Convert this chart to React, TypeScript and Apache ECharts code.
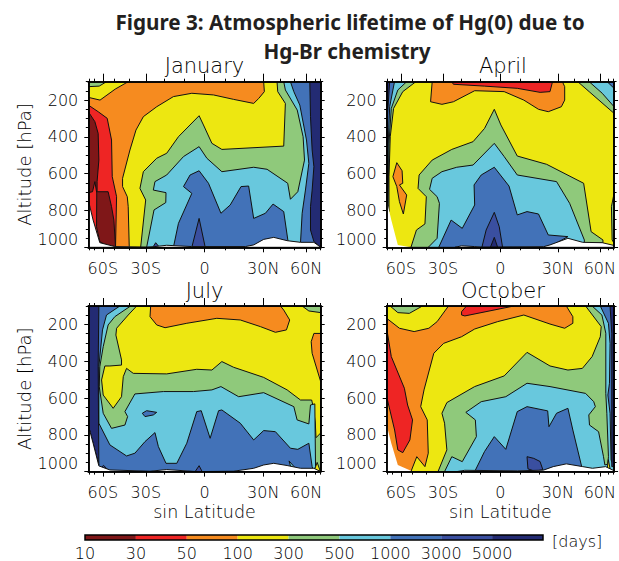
import React, { useEffect, useRef } from "react";
import * as echarts from "echarts";

// lifetime classes, darkest red (shortest) to navy (longest); last two are "below ground"
const levelColors = ["#7F1718", "#EE2524", "#F68B1F", "#EDE711", "#8FC97B", "#68C8DD", "#4272B8", "#3A4FA0", "#232B73", "#FFFFFF", "#FFFFFF"];
const colorbarLabels = ["10", "30", "50", "100", "300", "500", "1000", "3000", "5000"];
const pressureMajor = [200, 400, 600, 800, 1000];
const pressureMinor = [100, 150, 250, 300, 350, 450, 500, 550, 650, 700, 750, 850, 900, 950];
const latitudeMajor = [-60, -30, 0, 30, 60];
const latitudeLabels = ["60S", "30S", "0", "30N", "60N"];
const latitudeMinor = [-80, -70, -50, -40, -20, -10, 10, 20, 40, 50, 70, 80];
const S = 0.99;

const januaryLevels = [2, 3, 4, 1, 0, 3, 4, 5, 6, 7, 7, 8, 9];
const januaryContours = [
  [[-S, 100], [S, 100], [S, 1000], [-S, 1000]],
  [[-S, 100], [-0.65, 100], [-0.76, 140], [-0.89, 200], [-S, 185]],
  [[-S, 100], [-0.835, 100], [-0.897, 124], [-S, 127]],
  [[-S, 227], [-0.906, 263], [-0.829, 299], [-0.792, 417], [-0.786, 616], [-0.749, 725], [-0.758, 1000], [-S, 1000]],
  [[-S, 263], [-0.934, 317], [-0.906, 381], [-0.9, 526], [-0.915, 643], [-0.915, 698], [-0.821, 698], [-0.792, 779], [-0.772, 852], [-0.758, 996], [-0.835, 991], [-0.892, 969], [-0.92, 888], [-0.918, 705], [-0.934, 643], [-0.954, 698], [-S, 703]],
  [[-0.641, 1000], [-0.65, 779], [-0.658, 725], [-0.698, 670], [-0.698, 625], [-0.635, 471], [-0.584, 363], [-0.521, 290], [-0.407, 236], [-0.265, 181], [-0.108, 163], [0.077, 172], [0.248, 196], [0.419, 218], [0.462, 191], [0.51, 154], [0.504, 100], [S, 100], [S, 1000]],
  [[-0.544, 1000], [-0.501, 743], [-0.55, 680], [-0.521, 589], [-0.407, 516], [-0.322, 489], [-0.222, 399], [-0.046, 285], [-0.009, 335], [0.063, 435], [0.148, 468], [0.675, 450], [0.689, 218], [0.624, 154], [0.618, 100], [S, 100], [S, 1000]],
  [[-0.493, 1000], [-0.43, 797], [-0.33, 757], [-0.328, 703], [-0.436, 689], [-0.422, 643], [-0.322, 607], [-0.179, 507], [-0.046, 453], [0.02, 516], [0.148, 589], [0.419, 565], [0.533, 576], [0.709, 652], [0.732, 739], [0.795, 698], [0.852, 526], [0.84, 399], [0.79, 254], [0.689, 145], [0.675, 100], [S, 100], [S, 1000]],
  [[-0.265, 1000], [-0.222, 870], [-0.108, 707], [-0.179, 670], [-0.123, 607], [-0.046, 584], [0.034, 652], [0.14, 815], [0.219, 770], [0.311, 670], [0.376, 667], [0.419, 843], [0.519, 815], [0.584, 765], [0.675, 806], [0.712, 969], [0.818, 975], [0.832, 815], [0.86, 689], [0.889, 544], [0.869, 417], [0.812, 227], [0.761, 154], [0.732, 100], [S, 100], [S, 1000]],
  [[-0.108, 1000], [-0.046, 843], [0.006, 1000]],
  [[-0.44, 1000], [-0.416, 975], [-0.39, 995]],
  [[0.897, 100], [0.903, 290], [0.917, 471], [0.932, 562], [0.917, 689], [0.903, 779], [0.903, 906], [0.932, 969], [S, 1000], [S, 100]],
  [[-S, 743], [-0.949, 852], [-0.892, 975], [-0.764, 996], [-0.493, 1000], [-0.422, 996], [-0.322, 989], [-0.108, 996], [0.348, 996], [0.419, 987], [0.504, 957], [0.59, 946], [0.704, 964], [0.818, 973], [0.932, 973], [S, 1000], [-S, 1000]],
];

const aprilLevels = [3, 2, 1, 2, 4, 5, 6, 7, 8, 4, 5, 6, 8, 4, 5, 6, 4, 10, 9];
const aprilContours = [
  [[-S, 100], [S, 100], [S, 1000], [-S, 1000]],
  [[-0.594, 100], [-0.608, 209], [-0.509, 223], [-0.409, 209], [-0.224, 149], [0.033, 154], [0.204, 200], [0.332, 250], [0.417, 263], [0.531, 236], [0.56, 200], [0.56, 127], [0.54, 100]],
  [[-0.423, 100], [-0.409, 114], [-0.138, 124], [0.147, 136], [0.346, 158], [0.432, 154], [0.454, 100]],
  [[-0.936, 616], [-0.902, 540], [-0.856, 584], [-0.85, 652], [-0.879, 661], [-0.816, 716], [-0.845, 819], [-0.879, 752], [-0.902, 670]],
  [[-0.779, 1000], [-0.731, 906], [-0.657, 873], [-0.645, 725], [-0.717, 680], [-0.708, 607], [-0.594, 526], [-0.423, 468], [-0.238, 426], [-0.138, 354], [-0.053, 250], [0.004, 335], [0.147, 504], [0.403, 549], [0.725, 652], [0.79, 915], [0.893, 960], [0.893, 975], [0.731, 978], [0.731, 1000]],
  [[-0.628, 1000], [-0.551, 951], [-0.531, 761], [-0.551, 725], [-0.617, 685], [-0.594, 625], [-0.509, 589], [-0.38, 565], [-0.238, 553], [-0.053, 435], [0.033, 507], [0.147, 607], [0.489, 643], [0.603, 761], [0.731, 960], [0.731, 1000]],
  [[-0.537, 1000], [-0.429, 852], [-0.332, 897], [-0.224, 770], [-0.229, 661], [-0.167, 607], [-0.053, 565], [0.075, 667], [0.147, 824], [0.232, 806], [0.332, 819], [0.417, 933], [0.588, 942], [0.432, 996], [0.375, 1000]],
  [[-0.161, 1000], [-0.124, 906], [-0.053, 810], [-0.01, 888], [0.019, 1000]],
  [[-0.087, 1000], [-0.053, 946], [-0.024, 1000]],
  [[-S, 100], [-0.736, 100], [-0.85, 154], [-0.93, 245], [-0.959, 399], [-0.97, 616], [-0.97, 806], [-S, 743]],
  [[-S, 100], [-0.816, 100], [-0.893, 145], [-0.95, 245], [-0.97, 435], [-0.979, 797], [-S, 743]],
  [[-S, 100], [-0.922, 100], [-0.964, 236], [-0.979, 471], [-0.984, 797], [-S, 743]],
  [[-S, 100], [-0.964, 100], [-0.984, 290], [-S, 725]],
  [[0.674, 100], [0.773, 154], [S, 272], [S, 100]],
  [[0.773, 100], [0.887, 163], [S, 236], [S, 100]],
  [[0.93, 100], [S, 136], [S, 100]],
  [[S, 707], [0.967, 779], [0.973, 960], [S, 978]],
  [[-S, 743], [-0.95, 852], [-0.893, 987], [-0.779, 1000], [-S, 1000]],
  [[-0.395, 1000], [-0.338, 992], [-0.224, 996], [-0.167, 1000], [0.375, 997], [0.432, 987], [0.588, 951], [0.717, 973], [0.887, 975], [S, 990], [S, 1000]],
];

const julyLevels = [3, 2, 2, 4, 4, 5, 6, 6, 5, 7, 7, 8, 3, 9];
const julyContours = [
  [[-S, 100], [S, 100], [S, 1000], [-S, 1000]],
  [[-0.459, 100], [-0.464, 158], [-0.407, 203], [-0.336, 218], [-0.151, 194], [0.105, 167], [0.305, 176], [0.476, 212], [0.604, 243], [0.698, 230], [0.726, 176], [0.675, 122], [0.647, 100]],
  [[S, 249], [0.932, 249], [0.909, 294], [0.917, 357], [S, 511]],
  [[0.832, 100], [0.889, 127], [S, 136], [S, 100]],
  [[-0.578, 100], [-0.65, 149], [-0.749, 221], [-0.755, 258], [-0.707, 393], [-0.707, 421], [-0.806, 426], [-0.849, 426], [-0.877, 502], [-0.863, 584], [-0.778, 656], [-0.707, 593], [-0.692, 484], [-0.664, 439], [-0.607, 466], [-0.322, 469], [-0.066, 444], [0.063, 448], [0.148, 402], [0.248, 433], [0.504, 488], [0.704, 556], [0.818, 611], [0.913, 611], [0.926, 647], [0.944, 736], [0.95, 816], [S, 790], [S, 1000], [-S, 1000], [-S, 100]],
  [[-0.63, 100], [-0.764, 158], [-0.821, 203], [-0.863, 321], [-0.892, 430], [-0.897, 538], [-0.863, 683], [-0.792, 765], [-0.678, 747], [-0.655, 701], [-0.678, 674], [-0.593, 578], [-0.35, 565], [-0.094, 565], [0.063, 556], [0.14, 538], [0.291, 593], [0.504, 571], [0.761, 647], [0.789, 719], [0.889, 741], [0.903, 638], [0.94, 632], [0.946, 973], [0.932, 1000], [-S, 1000], [-S, 100]],
  [[-0.53, 683], [-0.493, 669], [-0.407, 678], [-0.436, 692], [-0.507, 701]],
  [[-0.721, 100], [-0.835, 149], [-0.869, 230], [-0.9, 430], [-0.9, 737], [-0.806, 855], [-0.664, 915], [-0.593, 900], [-0.507, 837], [-0.422, 788], [-0.393, 864], [-0.328, 955], [-0.236, 955], [-0.151, 846], [-0.066, 674], [-0.028, 669], [0.048, 819], [0.12, 669], [0.148, 665], [0.305, 737], [0.419, 828], [0.504, 777], [0.604, 783], [0.732, 873], [0.795, 879], [0.889, 846], [0.917, 973], [0.932, 1000], [-S, 1000], [-S, 100]],
  [[0.72, 942], [0.735, 975], [0.78, 985]],
  [[-0.08, 1000], [-0.046, 968], [-0.02, 1000]],
  [[-0.88, 978], [-0.86, 966], [-0.83, 986]],
  [[-S, 100], [-0.9, 100], [-0.906, 430], [-0.9, 964], [-S, 747]],
  [[0.94, 985], [0.96, 950], [0.985, 995], [0.96, 1000]],
  [[-S, 747], [-0.949, 846], [-0.9, 969], [-0.806, 991], [-0.464, 998], [-0.322, 989], [-0.066, 1000], [0.248, 998], [0.419, 982], [0.504, 964], [0.59, 955], [0.704, 967], [0.818, 982], [0.932, 982], [S, 1000], [-S, 1000]],
];

const octoberLevels = [2, 3, 4, 1, 1, 3, 10, 4, 5, 6, 6, 8, 7, 3, 9];
const octoberContours = [
  [[-S, 100], [S, 100], [S, 1000], [-S, 1000]],
  [[-S, 167], [-0.879, 221], [-0.751, 239], [-0.623, 221], [-0.551, 185], [-0.452, 100], [-S, 100]],
  [[-0.96, 100], [-0.893, 136], [-0.793, 140], [-0.679, 100]],
  [[-S, 221], [-0.95, 375], [-0.836, 547], [-0.808, 638], [-0.765, 719], [-0.788, 828], [-0.85, 897], [-0.893, 882], [-0.921, 774], [-S, 593]],
  [[-0.338, 131], [-0.295, 100], [0.118, 100], [-0.309, 154], [-0.338, 149]],
  [[-0.779, 1000], [-0.728, 919], [-0.657, 973], [-0.628, 900], [-0.637, 719], [-0.694, 647], [-0.665, 556], [-0.58, 357], [-0.494, 303], [-0.338, 267], [-0.224, 225], [-0.024, 185], [0.204, 149], [0.432, 198], [0.56, 221], [0.631, 194], [0.631, 158], [0.574, 100], [S, 100], [S, 1000]],
  [[-S, 747], [-0.95, 846], [-0.893, 964], [-0.779, 995], [-0.779, 1000], [-S, 1000]],
  [[-0.543, 1000], [-0.466, 882], [-0.486, 737], [-0.509, 683], [-0.466, 625], [-0.224, 538], [0.033, 480], [0.232, 352], [0.432, 426], [0.588, 448], [0.714, 439], [0.799, 375], [0.87, 267], [0.878, 212], [0.742, 100], [S, 100], [S, 1000]],
  [[-0.486, 1000], [-0.423, 919], [-0.332, 946], [-0.209, 810], [-0.218, 719], [-0.301, 678], [-0.167, 620], [0.047, 593], [0.232, 520], [0.432, 538], [0.742, 575], [0.813, 620], [0.827, 647], [0.77, 692], [0.776, 747], [0.855, 783], [0.898, 919], [0.91, 964], [0.935, 960], [0.941, 919], [0.927, 683], [0.918, 575], [0.918, 248], [0.884, 149], [0.799, 100], [S, 100], [S, 1000]],
  [[-0.224, 1000], [-0.138, 891], [-0.053, 810], [0.047, 879], [0.147, 674], [0.232, 647], [0.412, 670], [0.423, 756], [0.489, 683], [0.588, 656], [0.631, 774], [0.708, 973], [0.708, 1000]],
  [[0.87, 100], [0.941, 194], [0.955, 303], [0.95, 520], [0.936, 584], [0.955, 683], [0.964, 937], [S, 973], [S, 100]],
  [[0.955, 100], [0.97, 248], [0.97, 973], [S, 973], [S, 100]],
  [[0.232, 919], [0.29, 928], [0.345, 945], [0.37, 990], [0.3, 998], [0.24, 985]],
  [[0.93, 985], [0.94, 935], [0.955, 985]],
  [[-0.38, 1000], [-0.31, 993], [0.147, 996], [0.375, 992], [0.46, 973], [0.574, 958], [0.717, 973], [0.802, 982], [0.916, 973], [S, 995], [S, 1000]],
];

const panelNames = ["January", "April", "July", "October"];
const panelLevels = [januaryLevels, aprilLevels, julyLevels, octoberLevels];
const panelContours = [januaryContours, aprilContours, julyContours, octoberContours];
const gridLefts = [88.3, 386.7, 88.3, 386.7];
const gridTops = [81.7, 81.7, 306, 306];
const GW = 232.4;
const GH = 165.6;

const FONT = "DejaVu Sans";
const TITLE_FONT = "Noto Sans";
const INK = "#000000";
const THIN = 200;
const sin = (d: number) => Math.sin((d * Math.PI) / 180);

function xAxisOf(grid: number, position: string, values: number[], len: number, labelled: boolean, name?: string) {
  return {
    type: "value", gridIndex: grid, position, min: -S, max: S, z: 5,
    name, nameLocation: "middle", nameGap: 31,
    nameTextStyle: { fontFamily: FONT, fontSize: 17.5, color: INK, fontWeight: THIN },
    splitLine: { show: false },
    axisLine: { show: true, onZero: false, lineStyle: { color: "#000", width: 1.5 } },
    axisTick: { show: true, inside: false, length: len, customValues: values, lineStyle: { color: "#000", width: 1 } },
    axisLabel: {
      show: labelled, customValues: values, margin: 13,
      fontFamily: FONT, fontSize: 16, color: INK, fontWeight: THIN, hideOverlap: false,
      showMinLabel: true, showMaxLabel: true,
      formatter: (v: number) => {
        let best = 0;
        latitudeMajor.forEach((d, i) => { if (Math.abs(sin(d) - v) < Math.abs(sin(latitudeMajor[best]) - v)) best = i; });
        return latitudeLabels[best];
      },
    },
  };
}

function yAxisOf(grid: number, position: string, values: number[], len: number, labelled: boolean, name?: string) {
  return {
    type: "value", gridIndex: grid, position, min: 100, max: 1000, inverse: true, z: 5,
    name, nameLocation: "middle", nameGap: 55, nameRotate: 90,
    nameTextStyle: { fontFamily: FONT, fontSize: 18, color: INK, fontWeight: THIN },
    splitLine: { show: false },
    axisLine: { show: true, onZero: false, lineStyle: { color: "#000", width: 1.5 } },
    axisTick: { show: true, inside: false, length: len, customValues: values, lineStyle: { color: "#000", width: 1 } },
    axisLabel: {
      show: labelled, customValues: values, margin: 10,
      fontFamily: FONT, fontSize: 16, color: INK, fontWeight: THIN, hideOverlap: false,
      showMinLabel: true, showMaxLabel: true, verticalAlignMaxLabel: "bottom",
      formatter: (v: number) => String(v),
    },
  };
}

export default function App() {
  const ref = useRef<HTMLDivElement>(null);
  useEffect(() => {
    document.body.style.margin = "0";
    const chart = echarts.init(ref.current!, undefined, { renderer: "svg" });
    const grids: any[] = [];
    const xAxes: any[] = [];
    const yAxes: any[] = [];
    const series: any[] = [];
    const majorX = latitudeMajor.map(sin);
    const minorX = latitudeMinor.map(sin);

    panelNames.forEach((_, p) => {
      grids.push({ left: gridLefts[p], top: gridTops[p], width: GW, height: GH, containLabel: false });
      const x0 = xAxes.length;
      const y0 = yAxes.length;
      xAxes.push(
        xAxisOf(p, "bottom", majorX, 5, true, p >= 2 ? "sin Latitude" : undefined),
        xAxisOf(p, "bottom", minorX, 3, false),
        xAxisOf(p, "top", majorX, 8, false),
        xAxisOf(p, "top", minorX, 3, false),
      );
      yAxes.push(
        yAxisOf(p, "left", pressureMajor, 4, true, p % 2 === 0 ? "Altitude [hPa]" : undefined),
        yAxisOf(p, "left", pressureMinor, 2.5, false),
        yAxisOf(p, "right", pressureMajor, 4, false),
        yAxisOf(p, "right", pressureMinor, 2.5, false),
      );
      const contours = panelContours[p];
      const levels = panelLevels[p];
      series.push({
        type: "custom", coordinateSystem: "cartesian2d", xAxisIndex: x0, yAxisIndex: y0,
        clip: true, silent: true, z: 2,
        data: contours.map((_c, i) => [i]),
        encode: { x: [], y: [] },
        renderItem: (params: any, api: any) => {
          const i = params.dataIndex;
          const lv = levels[i];
          return {
            type: "polygon",
            shape: { points: contours[i].map((pt) => api.coord(pt)) },
            style: { fill: levelColors[lv], stroke: lv === 10 ? "none" : "#111", lineWidth: 1 },
          };
        },
      });
    });

    // colour bar
    const cb = panelNames.length;
    grids.push({ left: 85, top: 535, width: 458, height: 11 });
    xAxes.push({
      type: "value", gridIndex: cb, min: 0, max: colorbarLabels.length, z: 1,
      splitLine: { show: false }, axisLine: { show: false }, axisTick: { show: false },
      axisLabel: {
        customValues: colorbarLabels.map((_, i) => i), margin: 5, hideOverlap: false, showMinLabel: true,
        fontFamily: FONT, fontSize: 16, color: INK, fontWeight: THIN,
        formatter: (v: number) => colorbarLabels[Math.round(v)],
      },
    });
    yAxes.push({ type: "value", gridIndex: cb, min: 0, max: 1, show: false });
    series.push({
      type: "custom", coordinateSystem: "cartesian2d", xAxisIndex: xAxes.length - 1, yAxisIndex: yAxes.length - 1,
      silent: true, clip: false,
      data: [...colorbarLabels.map((_, i) => [i]), [-1]],
      encode: { x: [], y: [] },
      renderItem: (params: any, api: any) => {
        const i = params.dataIndex;
        const n = colorbarLabels.length;
        const outline = i === n;
        const a = api.coord([outline ? 0 : i, 1]);
        const b = api.coord([outline ? n : i + 1, 0]);
        return {
          type: "rect",
          z2: outline ? 5 : 1,
          shape: { x: a[0], y: a[1], width: b[0] - a[0], height: b[1] - a[1] },
          style: outline ? { fill: "none", stroke: "#000", lineWidth: 1.5 } : { fill: levelColors[i] },
        };
      },
    });

    const panelTitles = panelNames.map((t, p) => ({
      text: t, left: gridLefts[p] + GW / 2 - 5, top: gridTops[p] - 31, textAlign: "center",
      textStyle: { fontFamily: FONT, fontSize: 21, fontWeight: THIN, color: INK },
    }));

    chart.setOption({
      animation: false,
      title: [
        { text: "Figure 3: Atmospheric lifetime of Hg(0) due to", left: 345, top: 6, textAlign: "center", textStyle: { fontFamily: TITLE_FONT, fontSize: 20.7, fontWeight: "bold", color: "#231F20" } },
        { text: "Hg-Br chemistry", left: 342, top: 35, textAlign: "center", textStyle: { fontFamily: TITLE_FONT, fontSize: 20.7, fontWeight: "bold", color: "#231F20" } },
        ...panelTitles,
        { text: "[days]", left: 547, top: 528, textStyle: { fontFamily: FONT, fontSize: 16, fontWeight: THIN, color: INK } },
      ],
      grid: grids,
      xAxis: xAxes,
      yAxis: yAxes,
      series,
    });
    return () => chart.dispose();
  }, []);
  return <div ref={ref} style={{ position: "fixed", left: 0, top: 0, width: 619, height: 561, background: "#fff" }} />;
}
